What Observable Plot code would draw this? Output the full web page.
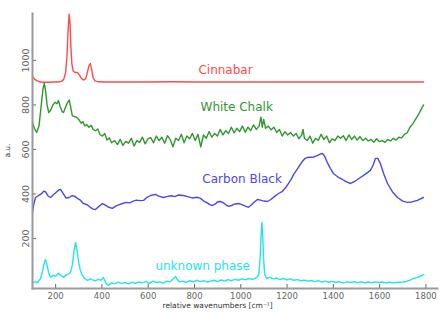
<!DOCTYPE html>
<html>
<head>
<meta charset="utf-8">
<script src="https://cdn.jsdelivr.net/npm/d3@7"></script>
<script src="https://cdn.jsdelivr.net/npm/@observablehq/plot@0.6"></script>
<style>
  html, body { margin: 0; padding: 0; background: #fff; }
</style>
</head>
<body>
<div id="chart"></div>
<script>
// x tick labels (relative wavenumbers, cm^-1) and y tick labels (a.u.)
const xTicks = [200, 400, 600, 800, 1000, 1200, 1400, 1600, 1800];
const yTicks = [200, 400, 600, 800, 1000];

// [wavenumber, intensity] pairs
const cinnabar = [[100,928],[110,915],[120,908],[135,903],[150,902],[170,902],[190,903],[210,903],[225,906],[235,915],[243,945],[249,1020],[253,1120],[258,1208],[262,1170],[266,1060],[270,985],[276,952],[284,946],[294,946],[302,935],[312,918],[322,912],[330,918],[337,945],[344,978],[350,986],[356,958],[362,922],[370,908],[385,904],[420,903],[500,903],[600,903],[700,904],[800,903],[900,903],[1000,903],[1100,903],[1200,903],[1300,903],[1400,903],[1500,903],[1600,903],[1700,903],[1790,903]];

const whiteChalk = [[100,723],[108,695],[118,676],[128,705],[138,800],[145,870],[151,897],[157,860],[163,800],[170,766],[178,775],[188,800],[198,812],[206,805],[212,820],[220,792],[228,770],[234,766],[242,788],[252,812],[259,822],[265,790],[272,752],[280,748],[290,745],[300,735],[310,718],[318,725],[326,705],[334,712],[344,700],[354,708],[362,690],[372,684],[382,692],[392,666],[402,660],[412,672],[422,642],[432,652],[442,630],[455,640],[467,622],[479,645],[491,618],[503,636],[515,628],[527,650],[539,615],[551,640],[563,632],[575,655],[587,625],[599,648],[611,653],[623,630],[635,660],[647,640],[659,655],[671,628],[683,662],[695,645],[707,612],[719,650],[731,640],[743,668],[755,630],[767,660],[779,648],[791,672],[803,640],[815,668],[827,612],[839,665],[851,650],[863,680],[875,655],[887,672],[899,660],[911,690],[923,665],[935,685],[947,672],[959,700],[971,675],[983,695],[995,680],[1007,705],[1019,678],[1031,700],[1043,685],[1055,710],[1067,690],[1079,705],[1087,745],[1093,700],[1099,735],[1107,695],[1119,705],[1131,688],[1143,700],[1155,676],[1167,690],[1179,660],[1191,680],[1203,665],[1215,676],[1227,660],[1239,672],[1251,648],[1263,665],[1269,690],[1275,650],[1287,640],[1299,660],[1311,628],[1323,650],[1335,640],[1347,668],[1359,645],[1371,660],[1383,630],[1395,648],[1407,640],[1419,660],[1431,650],[1443,662],[1455,640],[1467,665],[1479,645],[1491,660],[1503,642],[1515,658],[1527,640],[1539,650],[1551,638],[1563,645],[1575,632],[1587,648],[1599,635],[1611,640],[1623,632],[1635,645],[1647,638],[1659,650],[1671,642],[1683,655],[1695,652],[1707,668],[1719,675],[1731,700],[1743,715],[1755,735],[1767,755],[1779,780],[1790,800]];

const carbonBlack = [[100,317],[106,355],[113,384],[125,392],[138,400],[148,412],[156,410],[166,392],[178,384],[190,396],[205,410],[214,418],[221,420],[232,402],[245,382],[258,384],[270,392],[282,390],[294,380],[307,372],[320,357],[335,352],[350,340],[362,332],[372,330],[385,342],[402,357],[415,350],[430,340],[445,335],[460,345],[475,352],[489,357],[505,362],[520,360],[535,368],[550,372],[565,370],[580,371],[595,385],[610,393],[631,398],[645,390],[666,384],[680,388],[700,392],[715,388],[730,395],[752,393],[770,388],[790,382],[810,385],[826,380],[840,368],[855,360],[866,352],[878,348],[890,355],[900,365],[912,366],[925,360],[937,350],[947,344],[960,348],[975,355],[990,357],[1005,352],[1020,345],[1033,340],[1045,350],[1060,365],[1072,375],[1085,372],[1100,368],[1115,366],[1130,375],[1145,388],[1163,402],[1180,412],[1195,430],[1205,445],[1215,461],[1230,490],[1249,519],[1265,545],[1278,560],[1288,564],[1300,565],[1314,566],[1330,572],[1345,580],[1353,582],[1362,570],[1374,541],[1387,515],[1400,492],[1420,476],[1439,465],[1455,455],[1474,447],[1495,458],[1517,474],[1540,490],[1560,506],[1572,530],[1582,560],[1592,560],[1603,537],[1618,490],[1634,447],[1655,410],[1677,384],[1700,368],[1720,362],[1740,364],[1763,371],[1789,384]];

const unknownPhase = [[100,2],[110,5],[122,2],[135,20],[145,60],[152,95],[156,105],[162,85],[170,45],[178,25],[190,35],[200,30],[212,43],[222,35],[234,25],[245,35],[255,40],[264,47],[272,80],[280,150],[286,182],[292,150],[300,90],[307,56],[315,35],[325,20],[338,11],[350,18],[360,14],[372,10],[385,16],[395,12],[403,20],[407,25],[412,10],[420,-5],[428,-11],[440,0],[455,-3],[470,4],[485,-2],[500,2],[515,-4],[530,3],[545,-2],[560,5],[575,0],[590,6],[605,-2],[620,8],[635,2],[650,5],[665,-1],[680,8],[695,5],[705,15],[712,22],[718,29],[725,15],[735,5],[750,8],[765,2],[780,10],[795,5],[810,12],[825,6],[840,10],[855,4],[870,8],[885,12],[900,6],[915,14],[930,8],[945,15],[960,10],[975,16],[990,12],[1005,18],[1020,14],[1035,20],[1050,16],[1060,20],[1070,25],[1078,40],[1084,120],[1088,220],[1091,272],[1094,230],[1098,120],[1103,40],[1111,20],[1125,25],[1140,18],[1155,22],[1170,15],[1185,20],[1200,14],[1215,18],[1228,12],[1245,15],[1260,10],[1275,12],[1290,8],[1305,11],[1320,6],[1335,10],[1350,4],[1365,8],[1380,3],[1395,7],[1410,2],[1425,6],[1443,0],[1460,5],[1475,2],[1490,6],[1505,1],[1520,5],[1535,0],[1550,4],[1565,1],[1580,5],[1595,2],[1610,4],[1625,0],[1640,3],[1660,1],[1680,3],[1700,4],[1715,7],[1730,12],[1746,20],[1760,24],[1775,30],[1785,34],[1790,38]];

// series names, colours and where their names sit (data coordinates)
const seriesNames = ["Cinnabar", "White Chalk", "Carbon Black", "unknown phase"];
const seriesColors = ["#ff4a4a", "#2f982f", "#4848f4", "#22e6e6"];
const labelX = [817, 826, 834, 631];
const labelY = [955, 789, 465, 74];

const xLabel = "relative wavenumbers [cm\u207B\u00B9]";
const yLabel = "a.u.";

const seriesData = [cinnabar, whiteChalk, carbonBlack, unknownPhase];
const lines = seriesData.map((d, i) => Plot.line(d, {x: p => p[0], y: p => p[1], stroke: seriesColors[i], strokeWidth: 1.4, curve: "linear"}));
const labels = seriesNames.map((n, i) => ({name: n, x: labelX[i], y: labelY[i], color: seriesColors[i]}));

const chart = Plot.plot({
  width: 447,
  height: 312,
  marginLeft: 32,
  marginRight: 10,
  marginTop: 13,
  marginBottom: 24,
  style: {fontFamily: "DejaVu Sans", background: "#fff"},
  x: {domain: [100, 1850]},
  y: {domain: [-25, 1211]},
  marks: [
    ...lines,
    Plot.text(labels, {x: "x", y: "y", text: "name", fill: "color", fontSize: 12, textAnchor: "start", lineAnchor: "middle"}),
    Plot.axisX({ticks: xTicks, tickFormat: d => String(d), tickSize: -4, tickPadding: 8, fontSize: 8.5, color: "#666", label: null}),
    Plot.axisY({ticks: yTicks, tickFormat: d => String(d), tickSize: -4, tickPadding: 8, tickRotate: -90, fontSize: 9.5, color: "#666", label: null}),
    Plot.frame({anchor: "left", stroke: "#9a9a9a", strokeWidth: 2}),
    Plot.frame({anchor: "bottom", stroke: "#9a9a9a", strokeWidth: 2}),
    Plot.text([xLabel], {frameAnchor: "bottom", x: [900], dy: 19, fontSize: 7.5, fill: "#333", textAnchor: "middle"}),
    Plot.text([yLabel], {frameAnchor: "left", y: [595], dx: -25, rotate: -90, fontSize: 7.5, fill: "#333", textAnchor: "middle"})
  ]
});
document.getElementById("chart").appendChild(chart);
</script>
</body>
</html>
